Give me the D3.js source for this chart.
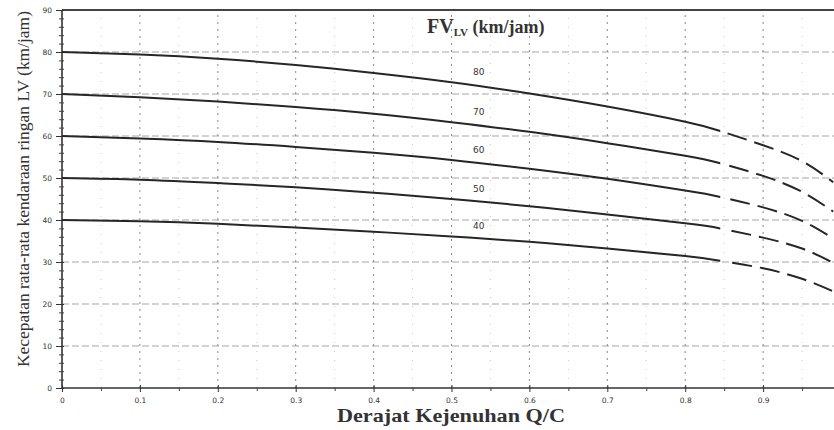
<!DOCTYPE html>
<html>
<head>
<meta charset="utf-8">
<script src="https://cdn.jsdelivr.net/npm/d3@7"></script>
<style>
  body { margin: 0; background: #fff; }
  svg { display: block; }
  .tick text { font-family: "DejaVu Sans", sans-serif; font-size: 7.5px; fill: #333; }
</style>
</head>
<body>
<svg id="chart" width="834" height="430"></svg>
<script>
const qc = [0, 0.1, 0.2, 0.3, 0.4, 0.5, 0.6, 0.7, 0.8, 0.845, 0.9, 0.95, 0.99];
const solidEnd = 0.845; // solid line up to here, dashed after

const fvNames = ["80", "70", "60", "50", "40"];
const speed80 = [80, 79.4, 78.4, 76.9, 75.0, 72.8, 70.1, 67.0, 63.4, 61.2, 57.8, 54.0, 49.0];
const speed70 = [70, 69.2, 68.2, 66.9, 65.3, 63.3, 61.0, 58.3, 55.3, 53.5, 50.5, 46.7, 42.0];
const speed60 = [60, 59.4, 58.6, 57.4, 56.0, 54.3, 52.2, 49.8, 47.0, 45.5, 43.0, 39.8, 35.6];
const speed50 = [50, 49.6, 48.8, 47.8, 46.5, 45.0, 43.3, 41.3, 39.2, 38.0, 35.8, 33.2, 29.8];
const speed40 = [40, 39.7, 39.1, 38.2, 37.2, 36.1, 34.8, 33.2, 31.4, 30.3, 28.5, 26.0, 23.0];
const allSpeeds = [speed80, speed70, speed60, speed50, speed40];

const xTicks = [0, 0.1, 0.2, 0.3, 0.4, 0.5, 0.6, 0.7, 0.8, 0.9];
const yTicks = [0, 10, 20, 30, 40, 50, 60, 70, 80, 90];

const svg = d3.select("#chart");
const x = d3.scaleLinear().domain([0, 1]).range([62, 841]);
const y = d3.scaleLinear().domain([0, 90]).range([388, 10]);

// clip regions for the solid and dashed parts
const defs = svg.append("defs");
defs.append("clipPath").attr("id", "solidClip")
  .append("rect").attr("x", 0).attr("y", 0).attr("width", x(solidEnd)).attr("height", 430);
defs.append("clipPath").attr("id", "dashClip")
  .append("rect").attr("x", x(solidEnd) + 6).attr("y", 0).attr("width", 834).attr("height", 430);

// grid
const grid = svg.append("g");
grid.selectAll(".hgrid")
  .data(yTicks.filter(d => d > 0 && d < 90))
  .join("line")
  .attr("x1", x(0)).attr("x2", 834)
  .attr("y1", d => y(d)).attr("y2", d => y(d))
  .attr("stroke", "#a5a5a5").attr("stroke-width", 1)
  .attr("stroke-dasharray", "7,3");

grid.selectAll(".vgrid")
  .data(xTicks.filter(d => d > 0))
  .join("line")
  .attr("x1", d => x(d)).attr("x2", d => x(d))
  .attr("y1", y(0)).attr("y2", y(90))
  .attr("stroke", "#8a8a8a").attr("stroke-width", 1)
  .attr("stroke-dasharray", "2,5");

grid.selectAll(".vminor")
  .data(d3.range(0.05, 1, 0.1))
  .join("line")
  .attr("x1", d => x(d)).attr("x2", d => x(d))
  .attr("y1", y(0)).attr("y2", y(90))
  .attr("stroke", "#c8c8c8").attr("stroke-width", 1)
  .attr("stroke-dasharray", "1,8");

// top border at 90
svg.append("line")
  .attr("x1", x(0)).attr("x2", 834)
  .attr("y1", y(90)).attr("y2", y(90))
  .attr("stroke", "#444").attr("stroke-width", 2);

// axes
const xAxis = svg.append("g")
  .attr("transform", `translate(0,${y(0)})`)
  .call(d3.axisBottom(x).tickValues(xTicks).tickSize(4).tickPadding(6)
    .tickFormat(d => d === 0 ? "0" : d3.format(".1f")(d)));
xAxis.select(".domain").attr("stroke", "#333").attr("stroke-width", 1.6).attr("d", `M${x(0)},0H834`);
xAxis.selectAll(".tick line").attr("stroke", "#333").attr("y1", -3);

svg.append("g")
  .attr("transform", `translate(0,${y(0)})`)
  .call(d3.axisBottom(x).tickValues(d3.range(0.05, 1, 0.1)).tickSize(3).tickFormat(""))
  .call(g => g.select(".domain").remove())
  .selectAll("line").attr("stroke", "#444");

const yAxis = svg.append("g")
  .attr("transform", `translate(${x(0)},0)`)
  .call(d3.axisLeft(y).tickValues(yTicks).tickSize(5).tickPadding(5));
yAxis.select(".domain").attr("stroke", "#333").attr("stroke-width", 1.6).attr("d", `M0,${y(0)}V${y(90)}`);
yAxis.selectAll(".tick line").attr("stroke", "#333").attr("x2", -6).attr("x1", 2);

svg.append("g")
  .attr("transform", `translate(${x(0)},0)`)
  .call(d3.axisLeft(y).tickValues(d3.range(0, 91, 2).filter(d => d % 10)).tickSize(3).tickFormat(""))
  .call(g => g.select(".domain").remove())
  .selectAll("line").attr("stroke", "#444").attr("x1", 2);

// curves
const line = d3.line()
  .x(d => x(d[0]))
  .y(d => y(d[1]))
  .curve(d3.curveNatural);

const curves = svg.append("g");
allSpeeds.forEach((vals, i) => {
  const pts = qc.map((q, j) => [q, vals[j]]);
  curves.append("path")
    .attr("d", line(pts))
    .attr("clip-path", "url(#solidClip)")
    .attr("fill", "none").attr("stroke", "#262626").attr("stroke-width", 2);
  curves.append("path")
    .attr("d", line(pts))
    .attr("clip-path", "url(#dashClip)")
    .attr("fill", "none").attr("stroke", "#262626").attr("stroke-width", 2)
    .attr("stroke-dasharray", "20,8");

  // curve label above the line near Q/C = 0.5
  const k = qc.indexOf(0.5);
  svg.append("text")
    .attr("x", x(0.535))
    .attr("y", y(vals[k]) - 7)
    .attr("text-anchor", "middle")
    .attr("font-family", "DejaVu Sans, sans-serif")
    .attr("font-size", 9)
    .attr("fill", "#333")
    .text(fvNames[i]);
});

// legend title
const title = svg.append("text")
  .attr("x", 427).attr("y", 33)
  .attr("font-family", "Liberation Serif, serif")
  .attr("font-weight", "bold")
  .attr("fill", "#333");
title.append("tspan").attr("font-size", 20).text("FV");
title.append("tspan").attr("font-size", 11).attr("dy", 3).text("LV");
title.append("tspan").attr("font-size", 18).attr("dy", -3).text(" (km/jam)");

// axis titles
svg.append("text")
  .attr("x", 451).attr("y", 422)
  .attr("text-anchor", "middle")
  .attr("font-family", "Liberation Serif, serif")
  .attr("font-weight", "bold")
  .attr("font-size", 19)
  .attr("fill", "#333")
  .attr("textLength", 228)
  .attr("lengthAdjust", "spacingAndGlyphs")
  .text("Derajat Kejenuhan Q/C");

svg.append("text")
  .attr("transform", "translate(29,189) rotate(-90)")
  .attr("text-anchor", "middle")
  .attr("font-family", "Liberation Serif, serif")
  .attr("font-size", 17)
  .attr("fill", "#333")
  .attr("textLength", 356)
  .attr("lengthAdjust", "spacingAndGlyphs")
  .text("Kecepatan rata-rata kendaraan ringan LV (km/jam)");
</script>
</body>
</html>
